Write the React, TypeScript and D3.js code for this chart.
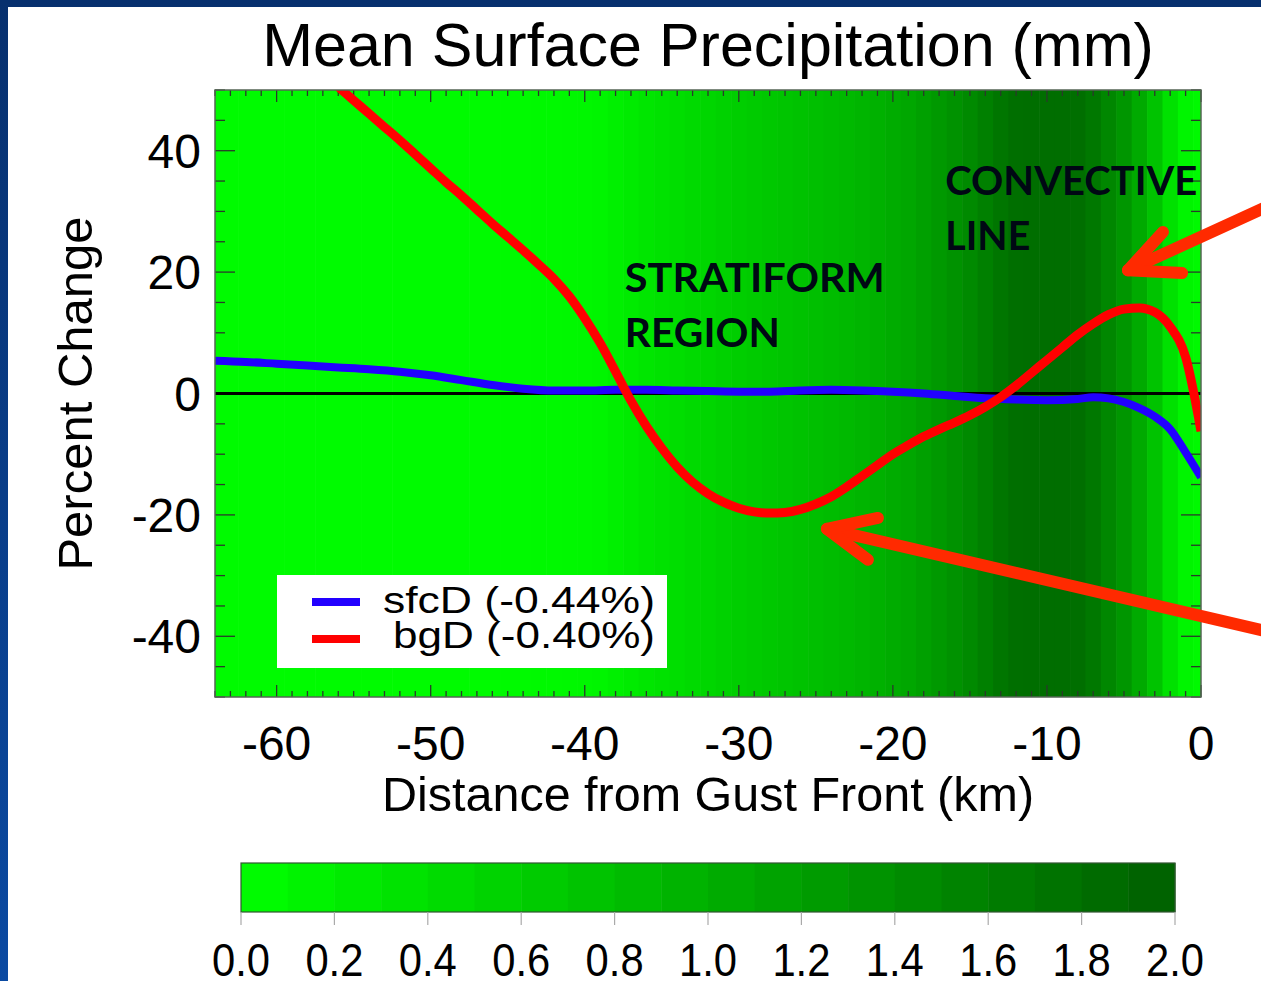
import React from "react";
import * as d3 from "d3";

// ---- data ----
const kmAxis = d3.range(-64, 1); // -64 .. 0 (1 km steps)

// mean surface precipitation (mm) per km, -64..0 (background shading)
const precip = [
  0.05, 0.05, 0.05, 0.05, 0.05, 0.05, 0.05, 0.05, 0.05, 0.05,
  0.05, 0.05, 0.05, 0.05, 0.05, 0.05, 0.05, 0.05, 0.05, 0.06,
  0.06, 0.07, 0.08, 0.09, 0.1, 0.12, 0.19, 0.25, 0.31, 0.36,
  0.41, 0.46, 0.51, 0.56, 0.61, 0.65, 0.69, 0.72, 0.76, 0.8,
  0.84, 0.88, 0.92, 0.98, 1.04, 1.1, 1.19, 1.28, 1.36, 1.46,
  1.59, 1.71, 1.8, 1.81, 1.81, 1.81, 1.8, 1.69, 1.5, 1.31,
  1.06, 0.75, 0.38, 0.12, 0.06,
];

const sfcDx = [-64, -62, -60, -58, -56, -54, -52, -50, -48, -46, -44, -42, -40, -38, -36, -34, -32, -30, -28, -26, -24, -22, -20, -18, -16, -14, -12, -10, -8, -7, -6, -5, -4, -3, -2, -1, 0];
const sfcD = [5.4, 5.2, 4.9, 4.6, 4.3, 4.0, 3.6, 3.0, 2.2, 1.4, 0.8, 0.5, 0.5, 0.6, 0.6, 0.5, 0.4, 0.3, 0.3, 0.5, 0.6, 0.5, 0.3, 0.0, -0.4, -0.8, -1.0, -1.1, -0.9, -0.6, -0.8, -1.4, -2.4, -3.8, -5.9, -9.7, -13.8];

const bgDx = [-56, -55, -54, -53, -52, -51, -50, -49, -48, -47, -46, -45, -44, -43, -42, -41, -40, -39, -38, -37, -36, -35, -34, -33, -32, -31, -30, -29, -28, -27, -26, -25, -24, -23, -22, -21, -20, -19, -18, -17, -16, -15, -14, -13, -12, -11, -10, -9, -8, -7, -6, -5, -4, -3, -2, -1, 0];
const bgD = [50.5, 48.3, 46.1, 43.9, 41.7, 39.4, 37.1, 34.8, 32.6, 30.3, 28.0, 25.8, 23.6, 21.3, 18.9, 16.0, 12.4, 8.3, 3.6, -1.2, -5.4, -9.0, -12.1, -14.6, -16.5, -17.9, -18.9, -19.5, -19.7, -19.6, -19.1, -18.2, -17.0, -15.4, -13.6, -11.8, -10.0, -8.5, -7.1, -5.9, -4.8, -3.6, -2.2, -0.6, 1.3, 3.4, 5.5, 7.6, 9.7, 11.5, 13.0, 13.9, 14.1, 13.4, 11.0, 6.0, -6.2];

const xTicks = [-60, -50, -40, -30, -20, -10, 0];
const yTicks = [-40, -20, 0, 20, 40];
const cbTicks = [0.0, 0.2, 0.4, 0.6, 0.8, 1.0, 1.2, 1.4, 1.6, 1.8, 2.0];

const legendNames = ["sfcD (-0.44%)", "bgD (-0.40%)"];
const regionLabels = [
  { lines: ["STRATIFORM", "REGION"], widths: [260, 155], x: -37.4, y: 16.7 },
  { lines: ["CONVECTIVE", "LINE"], widths: [252, 85], x: -16.6, y: 32.7 },
];
// arrows in data coordinates: tail, tip, two barb ends
const arrows = [
  { tail: [4.3, 30.8], tip: [-4.74, 20.3], b1: [-2.47, 26.6], b2: [-1.23, 19.85] },
  { tail: [4.3, -39.2], tip: [-24.28, -22.3], b1: [-20.97, -20.5], b2: [-21.62, -27.4] },
];

const W = 1261, H = 981;
const M = { left: 215, right: 1201, top: 90, bottom: 697 };
const CB = { left: 241, right: 1175, top: 863, bottom: 912 };

export default function App() {
  const x = d3.scaleLinear().domain([-64, 0]).range([M.left, M.right]);
  const y = d3.scaleLinear().domain([-50, 50]).range([M.bottom, M.top]);
  const color = d3.scaleLinear<string>().domain([0, 2]).range(["#00ff00", "#005f00"]).clamp(true);
  const cbx = d3.scaleLinear().domain([0, 2]).range([CB.left, CB.right]);

  const line = d3.line<[number, number]>()
    .x(d => x(d[0])).y(d => y(d[1]))
    .curve(d3.curveMonotoneX);

  const sfcPts = sfcDx.map((v, i) => [v, sfcD[i]] as [number, number]);
  const bgPts = bgDx.map((v, i) => [v, bgD[i]] as [number, number]);

  const xMinor = d3.range(-64, 1, 1);
  const yMinor = d3.range(-50, 51, 5);
  const sans = "'Liberation Sans', Arial, Helvetica, sans-serif";
  const tickCol = "#2a3a2a";
  const arrowCol = "#ff2a00";

  return (
    <svg width={W} height={H} style={{ position: "absolute", left: 0, top: 0, display: "block" }}>
      <defs>
        <linearGradient id="frame" x1="0" y1="0" x2="0" y2="1">
          <stop offset="0" stopColor="#07306e" />
          <stop offset="1" stopColor="#0b4aa2" />
        </linearGradient>
        <clipPath id="plotclip">
          <rect x={M.left} y={M.top} width={M.right - M.left} height={M.bottom - M.top} />
        </clipPath>
      </defs>
      <rect x={0} y={0} width={W} height={H} fill="url(#frame)" />
      <rect x={8} y={7} width={W - 8} height={H - 7} fill="#ffffff" />

      {/* title */}
      <text x={(M.left + M.right) / 2} y={66} textAnchor="middle" fontFamily={sans} fontSize={61} fill="#000">
        Mean Surface Precipitation (mm)
      </text>

      {/* background shading */}
      <g clipPath="url(#plotclip)">
        {kmAxis.map((k, i) => (
          <rect key={k} x={x(k - 0.5)} y={M.top} width={x(k + 0.5) - x(k - 0.5) + 0.6}
            height={M.bottom - M.top} fill={color(precip[i])} />
        ))}
      </g>

      {/* ticks */}
      <g stroke={tickCol} strokeWidth={1.3}>
        {xMinor.map(k => {
          const major = k % 10 === 0;
          const len = major ? 12 : 6;
          return (
            <g key={"xt" + k}>
              <line x1={x(k)} x2={x(k)} y1={M.bottom} y2={M.bottom - len} />
              <line x1={x(k)} x2={x(k)} y1={M.top} y2={M.top + len} />
            </g>
          );
        })}
        {yMinor.map(v => {
          const major = v % 20 === 0;
          const len = major ? 20 : 10;
          return (
            <g key={"yt" + v}>
              <line x1={M.left} x2={M.left + len} y1={y(v)} y2={y(v)} />
              <line x1={M.right} x2={M.right - len} y1={y(v)} y2={y(v)} />
            </g>
          );
        })}
      </g>

      {/* zero line */}
      <line x1={M.left} x2={M.right} y1={y(0)} y2={y(0)} stroke="#000" strokeWidth={3} />

      {/* legend */}
      <rect x={277} y={575} width={390} height={93} fill="#fff" />
      {legendNames.map((n, i) => (
        <g key={n}>
          <line x1={312} x2={360} y1={602 + i * 37} y2={602 + i * 37} stroke={i === 0 ? "#2200ff" : "#ff0000"} strokeWidth={8} />
          <text x={655} y={613 + i * 35} textAnchor="end" fontFamily={sans} fontSize={37}
            textLength={i === 0 ? 272 : 262} lengthAdjust="spacingAndGlyphs" fill="#000">{n}</text>
        </g>
      ))}

      {/* data lines */}
      <g clipPath="url(#plotclip)">
        <path d={line(sfcPts) || ""} fill="none" stroke="#2200ff" strokeWidth={8} />
        <path d={line(bgPts) || ""} fill="none" stroke="#ff0000" strokeWidth={9} />
      </g>

      {/* plot border */}
      <rect x={M.left} y={M.top} width={M.right - M.left} height={M.bottom - M.top} fill="none" stroke="#556655" strokeWidth={1.5} />

      {/* axis labels */}
      {yTicks.map(v => (
        <text key={"yl" + v} x={201} y={y(v) + 17} textAnchor="end" fontFamily={sans} fontSize={48} fill="#000">{v}</text>
      ))}
      {xTicks.map(k => (
        <text key={"xl" + k} x={x(k)} y={760} textAnchor="middle" fontFamily={sans} fontSize={48} fill="#000">{k}</text>
      ))}
      <text x={(M.left + M.right) / 2} y={811} textAnchor="middle" fontFamily={sans} fontSize={48.5} fill="#000">
        Distance from Gust Front (km)
      </text>
      <text transform={`translate(92, ${(M.top + M.bottom) / 2}) rotate(-90)`} textAnchor="middle" fontFamily={sans} fontSize={49} fill="#000">
        Percent Change
      </text>

      {/* region labels */}
      {regionLabels.map(r => (
        <text key={r.lines[0]} fontFamily="Lato, 'Open Sans', sans-serif" fontWeight={700} fontSize={41} fill="#000814">
          {r.lines.map((l, i) => (
            <tspan key={l} x={x(r.x)} y={y(r.y) + i * 55} textLength={r.widths[i]} lengthAdjust="spacingAndGlyphs">{l}</tspan>
          ))}
        </text>
      ))}

      {/* arrows */}
      <g stroke={arrowCol} strokeWidth={12} strokeLinecap="round" strokeLinejoin="round" fill="none">
        {arrows.map((a, i) => (
          <g key={"ar" + i}>
            <line x1={x(a.tail[0])} y1={y(a.tail[1])} x2={x(a.tip[0])} y2={y(a.tip[1])} />
            <polyline points={[a.b1, a.tip, a.b2].map(p => `${x(p[0])},${y(p[1])}`).join(" ")} />
          </g>
        ))}
      </g>

      {/* colorbar */}
      {d3.range(20).map(i => {
        const v0 = i * 0.1;
        return (
          <rect key={"cb" + i} x={cbx(v0)} y={CB.top} width={cbx(v0 + 0.1) - cbx(v0) + 0.5}
            height={CB.bottom - CB.top} fill={color(v0 + 0.05)} />
        );
      })}
      <rect x={CB.left} y={CB.top} width={CB.right - CB.left} height={CB.bottom - CB.top} fill="none" stroke="#335533" strokeWidth={1.2} />
      {cbTicks.map(t => (
        <g key={"cbt" + t}>
          <line x1={cbx(t)} x2={cbx(t)} y1={CB.bottom} y2={CB.bottom + 13} stroke="#aaaaaa" strokeWidth={1.2} />
          <text x={cbx(t)} y={976} textAnchor="middle" fontFamily={sans} fontSize={46}
            textLength={58} lengthAdjust="spacingAndGlyphs" fill="#000">{t.toFixed(1)}</text>
        </g>
      ))}
    </svg>
  );
}
